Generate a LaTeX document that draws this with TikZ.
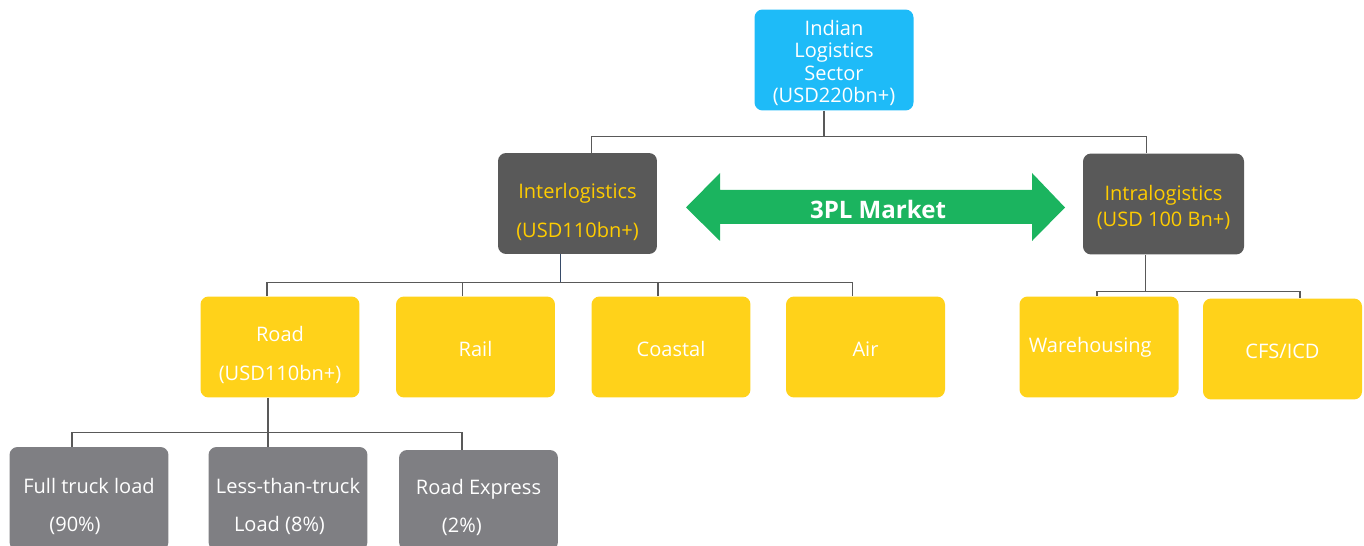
\documentclass[tikz,border=0pt]{standalone}
\usepackage{fontspec}
\setmainfont{Open Sans}
\usetikzlibrary{calc}
\definecolor{skyblue}{RGB}{30,187,248}
\definecolor{darkbox}{RGB}{89,89,89}
\definecolor{goldbox}{RGB}{255,210,26}
\definecolor{greybox}{RGB}{127,127,131}
\definecolor{goldtext}{RGB}{255,204,0}
\definecolor{mktgreen}{RGB}{27,180,95}
\definecolor{linegrey}{RGB}{89,89,89}
\definecolor{slateline}{RGB}{55,75,105}
% strut on the first line, to let the text sit lower in its box
\newcommand\lowstrut[1]{\rule{0pt}{#1}}
\tikzset{
  box/.style={rounded corners=0.16cm, minimum width=3.18cm, minimum height=2.02cm,
    align=center, inner sep=0pt, text=white, font=\fontsize{11.4}{12.8}\selectfont},
  conn/.style={draw=linegrey, line width=0.6pt},
}
\begin{document}
\begin{tikzpicture}[x=0.02cm,y=-0.02cm]
	\useasboundingbox (0,0) rectangle (1364,546);
	% top level
	\node[box, fill=skyblue] (sector) at (834,60) {\lowstrut{12pt}Indian\\Logistics\\Sector\\(USD220bn+)};
	\node[box, fill=darkbox, text=goldtext] (inter) at (577.5,203.5) {\lowstrut{18.2pt}Interlogistics\\[9pt](USD110bn+)};
	\node[box, fill=darkbox, text=goldtext, minimum width=3.22cm] (intra) at (1163.5,204) {\lowstrut{12.6pt}Intralogistics\\[2.5pt](USD 100 Bn+)};
	% 3PL arrow
	\fill[mktgreen] (686,207.5) -- (720,173) -- (720,190) -- (1032,190) -- (1032,173) -- (1065,207.5)
		-- (1032,241) -- (1032,224) -- (720,224) -- (720,241) -- cycle;
	\node[text=white, font=\bfseries\fontsize{13.7}{15}\selectfont] (mkt) at (878,209) {3PL Market};
	% modes
	\node[box, fill=goldbox] (road) at (280,347) {\lowstrut{17.6pt}Road\\[9.5pt](USD110bn+)};
	\node[box, fill=goldbox] (rail) at (475.5,347) {\lowstrut{10.8pt}Rail};
	\node[box, fill=goldbox] (coastal) at (671,347) {\lowstrut{10.8pt}Coastal};
	\node[box, fill=goldbox] (air) at (865.5,347) {\lowstrut{10.8pt}Air};
	\node[box, fill=goldbox] (ware) at (1099,347) {Warehousing\hspace*{10pt}};
	\node[box, fill=goldbox] (cfs) at (1282.5,349) {\lowstrut{10.8pt}CFS/ICD};
	% road segments
	\node[box, fill=greybox, align=left, minimum height=2.06cm] (ftl) at (89,498.5) {\lowstrut{17.6pt}Full truck load\\[9pt]\hspace{1.3em}(90\%)};
	\node[box, fill=greybox, align=left, minimum height=2.06cm] (ltl) at (288,498.5) {\lowstrut{17.6pt}Less-than-truck\\[9pt]\hspace{0.9em}Load (8\%)};
	\node[box, fill=greybox, align=left, minimum height=2.0cm] (rex) at (478.5,500) {\lowstrut{17pt}Road Express\\[9pt]\hspace{1.3em}(2\%)};
	% connectors
	\draw[conn] ($(sector.south)+(-10,0)$) -- ++(0,26) coordinate (bus1);
	\draw[conn] ($(inter.north)+(14,0)$) |- (bus1) -| ($(intra.north)+(-17,0)$);
	\draw[slateline, line width=1pt] ($(inter.south)+(-17,0)$) -- ++(0,28) coordinate (bus2);
	\draw[conn] ($(road.north)+(-13,0)$) |- (bus2) -| ($(air.north)+(-13,0)$);
	\draw[conn] ($(rail.north)+(-13,0)$) |- (bus2);
	\draw[conn] ($(coastal.north)+(-13,0)$) |- (bus2);
	\draw[conn] ($(intra.south)+(-18,0)$) -- ++(0,37) coordinate (bus4);
	\draw[conn] ($(ware.north)+(-2,0)$) |- (bus4) -| ($(cfs.north)+(17.5,0)$);
	\draw[conn] ($(road.south)+(-12,0)$) -- ++(0,35) coordinate (bus3);
	\draw[conn] ($(ftl.north)+(-17,0)$) |- (bus3) -| ($(rex.north)+(-16.5,0)$);
	\draw[conn] ($(ltl.north)+(-20,0)$) |- (bus3);
\end{tikzpicture}
\end{document}
